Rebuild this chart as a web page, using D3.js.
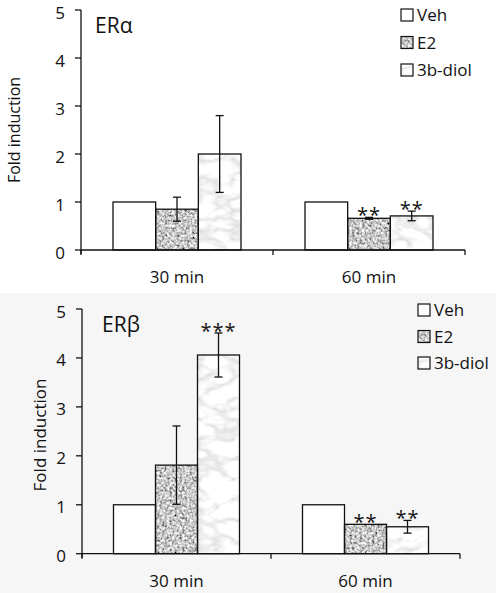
<!DOCTYPE html>
<html><head><meta charset="utf-8">
<script src="https://cdn.jsdelivr.net/npm/d3@7"></script>
<style>body{margin:0;background:#fff}svg{display:block}text{font-family:"Open Sans",sans-serif;fill:#111}</style>
</head><body>
<script>
const categories = ["30 min", "60 min"];
const seriesNames = ["Veh", "E2", "3b-diol"];
const yTicks = [0, 1, 2, 3, 4, 5];
// ERα panel
const alphaVeh = [1, 1];
const alphaE2 = [0.85, 0.66];
const alphaE2Err = [0.25, 0.02];
const alphaDiol = [2.0, 0.71];
const alphaDiolErr = [0.8, 0.1];
const alphaStars = [["", "", ""], ["", "**", "**"]];
// ERβ panel
const betaVeh = [1, 1];
const betaE2 = [1.81, 0.6];
const betaE2Err = [0.8, 0];
const betaDiol = [4.06, 0.55];
const betaDiolErr = [0.45, 0.13];
const betaStars = [["", "", "***"], ["", "**", "**"]];

const W = 496, H = 593;
const svg = d3.select("body").append("svg").attr("width", W).attr("height", H);
const defs = svg.append("defs");

function texture(id, type, freq, oct, seed, k, b) {
  const f = defs.append("filter").attr("id", id).attr("x", 0).attr("y", 0).attr("width", 1).attr("height", 1);
  f.append("feTurbulence").attr("type", type).attr("baseFrequency", freq).attr("numOctaves", oct).attr("seed", seed).attr("result", "n");
  f.append("feColorMatrix").attr("in", "n").attr("type", "matrix")
    .attr("values", `${k} 0 0 0 ${b}  ${k} 0 0 0 ${b}  ${k} 0 0 0 ${b}  0 0 0 0 1`).attr("result", "g");
  f.append("feComposite").attr("in", "g").attr("in2", "SourceGraphic").attr("operator", "in");
}
texture("texE2", "fractalNoise", 0.4, 3, 3, 1.6, -0.22);
texture("texDiol", "turbulence", "0.03 0.05", 3, 7, 0.9, 0.72);
const fills = [null, "url(#texE2)", "url(#texDiol)"];

// bottom panel background
svg.append("rect").attr("x", 0).attr("y", 293).attr("width", W).attr("height", H - 293).attr("fill", "#f6f6f6");

function panel(cfg) {
  const g = svg.append("g");
  const x = d3.scaleBand().domain(categories).range([cfg.x0, cfg.x1]).paddingInner(1 / 3).paddingOuter(1 / 6);
  const xs = d3.scaleBand().domain(seriesNames).range([0, x.bandwidth()]);
  const y = d3.scaleLinear().domain([0, 5]).range([cfg.yb, cfg.yt]);
  const rows = [];
  categories.forEach((c, i) => {
    seriesNames.forEach((s, j) => {
      rows.push({c, s, j, v: cfg.vals[j][i], e: cfg.errs[j][i], star: cfg.stars[i][j]});
    });
  });
  const bx = d => x(d.c) + xs(d.s);
  g.selectAll("rect.fill").data(rows).join("rect")
    .attr("x", bx).attr("y", d => y(d.v)).attr("width", xs.bandwidth()).attr("height", d => y(0) - y(d.v))
    .attr("fill", d => d.j === 0 ? "#fff" : "#000").attr("filter", d => fills[d.j]);
  g.selectAll("rect.out").data(rows).join("rect")
    .attr("x", bx).attr("y", d => y(d.v)).attr("width", xs.bandwidth()).attr("height", d => y(0) - y(d.v))
    .attr("fill", "none").attr("stroke", "#111").attr("stroke-width", 1.3);
  const eb = rows.filter(d => d.e > 0);
  const cx = d => bx(d) + xs.bandwidth() / 2;
  g.selectAll("line.ev").data(eb).join("line")
    .attr("x1", cx).attr("x2", cx).attr("y1", d => y(d.v - d.e)).attr("y2", d => y(d.v + d.e))
    .attr("stroke", "#111").attr("stroke-width", 1.3);
  [-1, 1].forEach(sg => {
    g.selectAll(null).data(eb).join("line")
      .attr("x1", d => cx(d) - 4).attr("x2", d => cx(d) + 4)
      .attr("y1", d => y(d.v + sg * d.e)).attr("y2", d => y(d.v + sg * d.e))
      .attr("stroke", "#111").attr("stroke-width", 1.3);
  });
  g.selectAll("text.star").data(rows.filter(d => d.star)).join("text")
    .attr("x", cx).attr("y", d => y(d.v + (d.e || 0)) + 5)
    .attr("text-anchor", "middle").attr("font-size", 20).attr("letter-spacing", 1)
    .text(d => d.star);
  g.append("line").attr("x1", cfg.x0).attr("x2", cfg.x0).attr("y1", cfg.yt).attr("y2", cfg.yb + 4).attr("stroke", "#111").attr("stroke-width", 1.3);
  g.selectAll("line.yt").data(yTicks).join("line")
    .attr("x1", cfg.x0 - 6).attr("x2", cfg.x0).attr("y1", d => y(d)).attr("y2", d => y(d)).attr("stroke", "#111").attr("stroke-width", 1.3);
  g.selectAll("text.yl").data(yTicks).join("text")
    .attr("x", cfg.x0 - 16).attr("y", d => y(d) + 8.5).attr("text-anchor", "end").attr("font-size", 17).text(d => d);
  g.append("line").attr("x1", cfg.x0).attr("x2", cfg.x1).attr("y1", y(0)).attr("y2", y(0)).attr("stroke", "#111").attr("stroke-width", 1.3);
  const bounds = [cfg.x0, (cfg.x0 + cfg.x1) / 2, cfg.x1];
  g.selectAll("line.xt").data(bounds).join("line")
    .attr("x1", d => d).attr("x2", d => d).attr("y1", y(0)).attr("y2", y(0) + 5).attr("stroke", "#111").attr("stroke-width", 1.3);
  g.selectAll("text.xl").data(categories).join("text")
    .attr("x", d => x(d) + x.bandwidth() / 2).attr("y", y(0) + 33).attr("text-anchor", "middle").attr("font-size", 17).text(d => d);
  g.append("text").attr("transform", `translate(${cfg.ylx},${cfg.yly}) rotate(-90)`)
    .attr("text-anchor", "middle").attr("font-size", cfg.ylfs).text("Fold induction");
  g.append("text").attr("x", cfg.tx).attr("y", cfg.ty).attr("font-size", 21).text(cfg.title);
  const lg = g.selectAll("g.lg").data(seriesNames).join("g")
    .attr("transform", (d, i) => `translate(${cfg.lx},${cfg.ly + i * cfg.lstep})`);
  lg.append("rect").attr("x", 0).attr("y", -6).attr("width", 12).attr("height", 12)
    .attr("fill", (d, i) => i === 0 ? "#fff" : "#000").attr("filter", (d, i) => fills[i]);
  lg.append("rect").attr("x", 0).attr("y", -6).attr("width", 12).attr("height", 12)
    .attr("fill", "none").attr("stroke", "#111").attr("stroke-width", 1.2);
  lg.append("text").attr("x", 16).attr("y", 6).attr("font-size", 17).text(d => d);
}

panel({x0: 81, x1: 465, yb: 250, yt: 10,
  vals: [alphaVeh, alphaE2, alphaDiol], errs: [[0, 0], alphaE2Err, alphaDiolErr], stars: alphaStars,
  ylx: 20, yly: 130, ylfs: 16, tx: 95, ty: 33, title: "ERα", lx: 401, ly: 15, lstep: 27.5});
panel({x0: 82, x1: 460, yb: 553.7, yt: 309,
  vals: [betaVeh, betaE2, betaDiol], errs: [[0, 0], betaE2Err, betaDiolErr], stars: betaStars,
  ylx: 46, yly: 435, ylfs: 17, tx: 102, ty: 332, title: "ERβ", lx: 418, ly: 310, lstep: 26.5});
</script>
</body></html>
